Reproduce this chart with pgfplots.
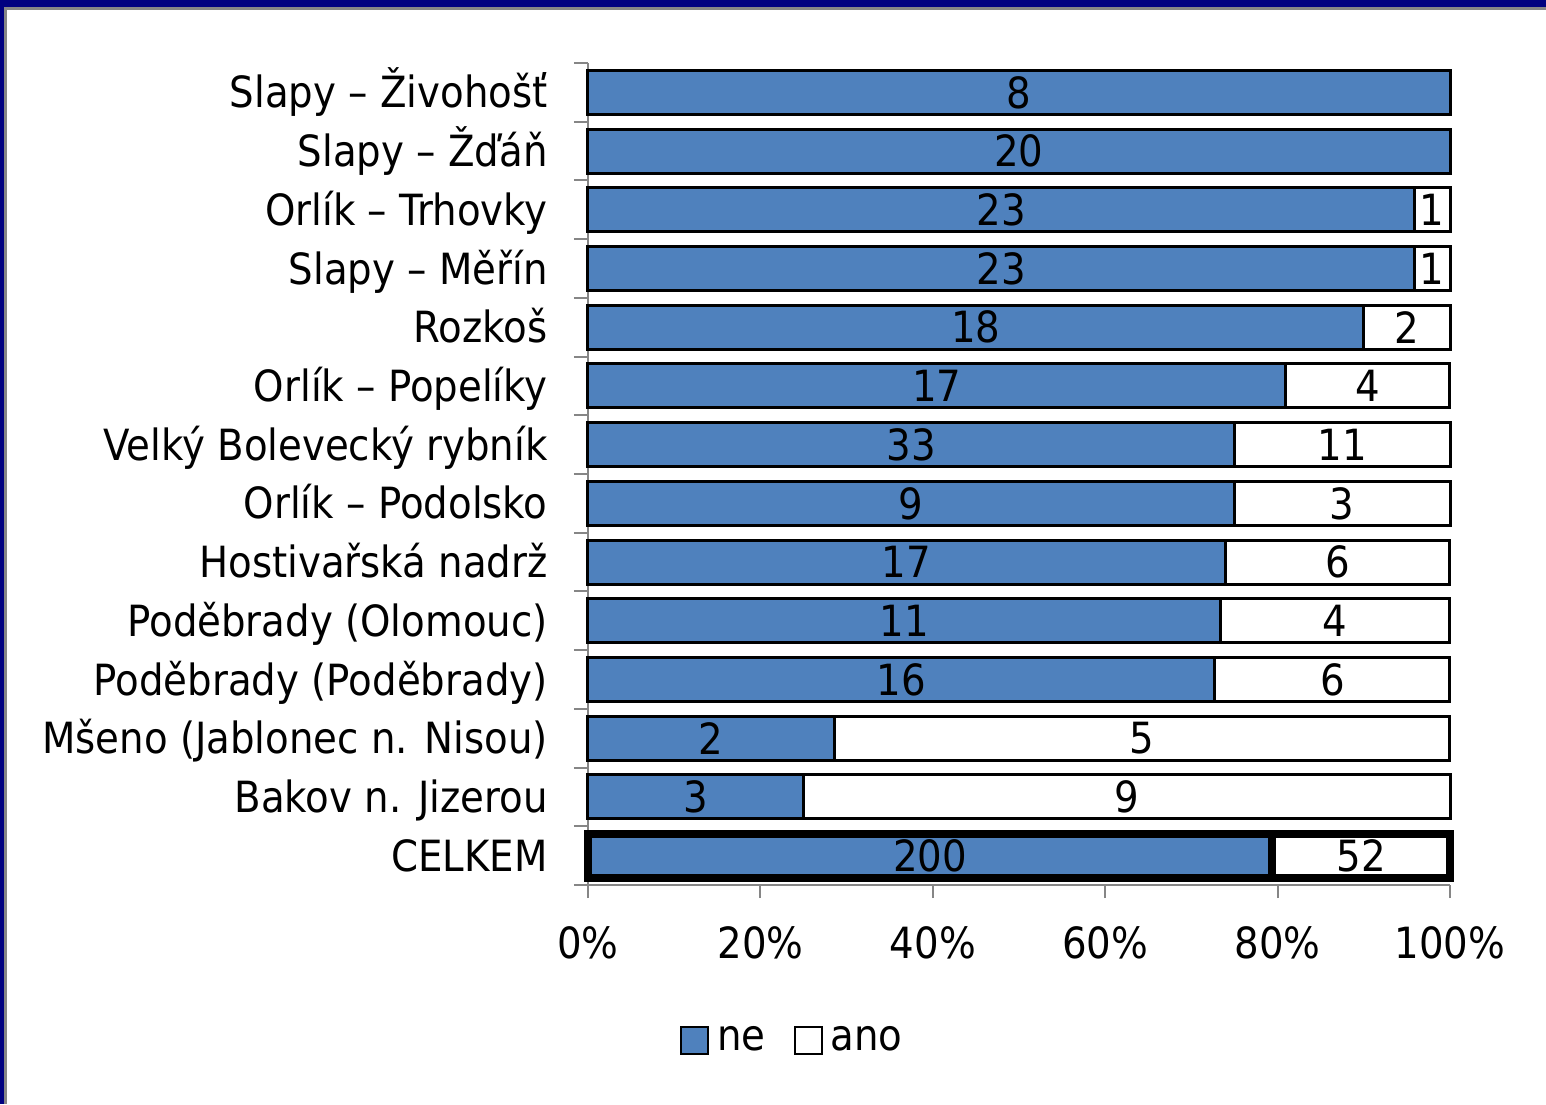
\documentclass[border=0pt]{standalone}
\usepackage{pgfplots}
\usepackage{pgfplotstable}
\pgfplotsset{compat=1.18}
\usepackage{fontspec}
\setmainfont{DejaVu Sans}[FakeStretch=0.9]

\definecolor{neblue}{HTML}{4F81BD}
\definecolor{axisgray}{HTML}{868686}
\definecolor{framenavy}{HTML}{000080}

% answers per site: ne / ano (idx 13 = top row)
\pgfplotstableread{
idx ne ano
13 8 0
12 20 0
11 23 1
10 23 1
9 18 2
8 17 4
7 33 11
6 9 3
5 17 6
4 11 4
3 16 6
2 2 5
1 3 9
}\sites
% overall total
\pgfplotstableread{
idx ne ano
0 200 52
}\total

\newcommand{\chartfont}{\fontsize{21.5}{26}\selectfont}

\pgfplotsset{
  chartbox/.style={
    scale only axis, width=431pt, height=411pt,
    xmin=0, xmax=100, ymin=-0.5, ymax=13.5,
    clip=false,
  },
}

\begin{document}
\begin{tikzpicture}
\useasboundingbox (-294pt,-109.5pt) rectangle (479pt,442.5pt);

% site rows
\begin{axis}[
  chartbox,
  xbar stacked, bar width=0.75,
  axis lines*=left,
  axis line style={-, axisgray, line width=1pt},
  tick align=outside,
  major tick length=6.5pt, minor tick length=7pt,
  xtick={0,20,...,100},
  xticklabels={0\%,20\%,40\%,60\%,80\%,100\%},
  x tick style={axisgray, line width=1pt},
  xticklabel style={font=\chartfont, inner sep=0pt, anchor=north, yshift=-14pt},
  ytick={0,...,13},
  yticklabels={CELKEM, Bakov n. Jizerou, Mšeno (Jablonec n. Nisou),
    Poděbrady (Poděbrady), Poděbrady (Olomouc), Hostivařská nadrž,
    Orlík – Podolsko, Velký Bolevecký rybník, Orlík – Popelíky, Rozkoš,
    Slapy – Měřín, Orlík – Trhovky, Slapy – Žďáň, Slapy – Živohošť},
  major y tick style={draw=none},
  minor ytick={-0.5,0.5,...,13.5},
  minor y tick style={axisgray, line width=1pt},
  yticklabel style={font=\chartfont, inner sep=0pt, anchor=base east, yshift=-7.8pt, xshift=-13.5pt},
  legend columns=2,
  legend image code/.code={\draw[#1, line width=1pt] (0pt,-6.75pt) rectangle (13.5pt,6.75pt);},
  legend style={draw=none, fill=none, at={(axis description cs:0.236,-0.1886)}, anchor=center,
    font=\chartfont, column sep=4pt, nodes={inner sep=0pt},
    /tikz/every even column/.append style={column sep=14pt}},
]
\addplot[fill=neblue, draw=black, line width=1.5pt]
  table[x expr=\thisrow{ne}/(\thisrow{ne}+\thisrow{ano})*100, y=idx] {\sites};
\addlegendentry{ne}
\addplot[fill=white, draw=black, line width=1.5pt]
  table[x expr=\thisrow{ano}/(\thisrow{ne}+\thisrow{ano})*100, y=idx] {\sites};
\addlegendentry{ano}
\end{axis}

% overall row, heavier outline
\begin{axis}[chartbox, hide axis, xbar stacked, bar width=0.75]
\addplot[fill=neblue, draw=black, line width=4pt]
  table[x expr=\thisrow{ne}/(\thisrow{ne}+\thisrow{ano})*100, y=idx] {\total};
\addplot[fill=white, draw=black, line width=4pt]
  table[x expr=\thisrow{ano}/(\thisrow{ne}+\thisrow{ano})*100, y=idx] {\total};
\end{axis}

% counts centred in each segment
\begin{axis}[chartbox, hide axis,
  nodes near coords, nodes near coords align={center},
  every node near coord/.append style={font=\chartfont, inner sep=0pt, anchor=center},
  point meta=explicit symbolic]
\addplot[draw=none, mark=none]
  table[x expr=\thisrow{ne}/2/(\thisrow{ne}+\thisrow{ano})*100, y=idx, meta=ne] {\sites};
\addplot[draw=none, mark=none, restrict expr to domain={\thisrow{ano}}{0.5:1000}]
  table[x expr=(\thisrow{ne}+\thisrow{ano}/2)/(\thisrow{ne}+\thisrow{ano})*100, y=idx, meta=ano] {\sites};
\addplot[draw=none, mark=none]
  table[x expr=\thisrow{ne}/2/(\thisrow{ne}+\thisrow{ano})*100, y=idx, meta=ne] {\total};
\addplot[draw=none, mark=none]
  table[x expr=(\thisrow{ne}+\thisrow{ano}/2)/(\thisrow{ne}+\thisrow{ano})*100, y=idx, meta=ano] {\total};
\end{axis}

% slide frame
\fill[axisgray] (-292pt,437.5pt) rectangle (479pt,439pt);
\fill[axisgray] (-292pt,-109.5pt) rectangle (-290.5pt,439pt);
\fill[framenavy] (-294pt,439pt) rectangle (479pt,442.5pt);
\fill[framenavy] (-294pt,-109.5pt) rectangle (-292pt,442.5pt);
\end{tikzpicture}
\end{document}
